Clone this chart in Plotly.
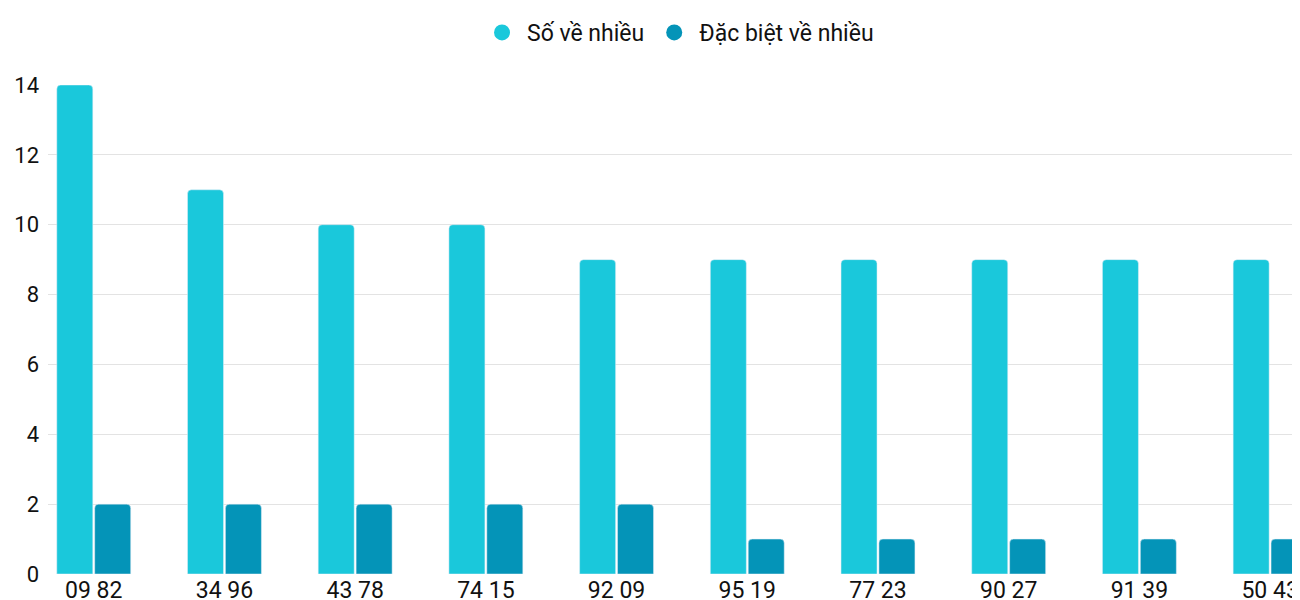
import plotly.graph_objects as go

categories = ["09 82", "34 96", "43 78", "74 15", "92 09", "95 19", "77 23", "90 27", "91 39", "50 43"]
so_ve_nhieu = [14, 11, 10, 10, 9, 9, 9, 9, 9, 9]
dac_biet = [2, 2, 2, 2, 2, 1, 1, 1, 1, 1]
series_names = ["Số về nhiều", "Đặc biệt về nhiều"]
colors = ["#1ac8db", "#0494b8"]

fig = go.Figure()
fig.add_bar(x=categories, y=so_ve_nhieu, name=series_names[0], marker_color=colors[0], showlegend=False)
fig.add_bar(x=categories, y=dac_biet, name=series_names[1], marker_color=colors[1], showlegend=False)
for n, c in zip(series_names, colors):
    fig.add_scatter(x=[None], y=[None], mode="markers", name=n,
                    marker=dict(color=c, size=26, symbol="circle"))
fig.update_layout(
    width=1300, height=600,
    margin=dict(l=40, r=0, t=77, b=34),
    paper_bgcolor="white", plot_bgcolor="white",
    font=dict(family="Roboto", size=21, color="#111"),
    barmode="group", bargap=0.42, bargroupgap=0.05, barcornerradius=4,
    legend=dict(orientation="h", x=0.5, xanchor="center", yref="container", y=0.995, yanchor="top",
                font=dict(size=23), itemwidth=40),
    xaxis=dict(range=[-0.35, 9.29], showgrid=False, ticks="", tickfont=dict(size=23), automargin=False),
    yaxis=dict(range=[0, 14], dtick=2, gridcolor="#e3e3e3", zeroline=False, ticks="",
               tickfont=dict(size=22), ticklabelstandoff=8, automargin=False),
)
fig.write_html("out.html")
